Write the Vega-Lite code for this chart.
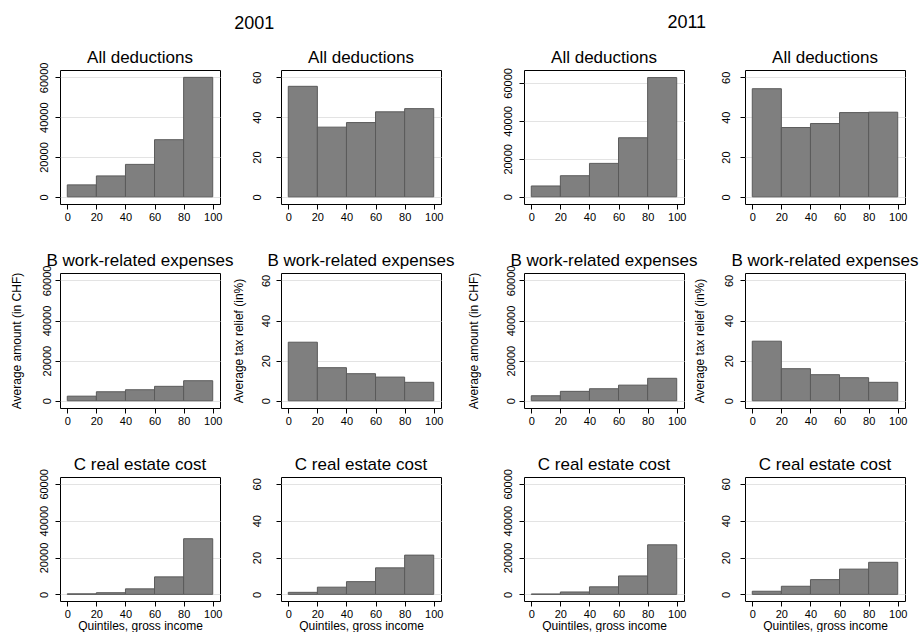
{
  "$schema": "https://vega.github.io/schema/vega-lite/v6.json",
  "background": "white",
  "padding": {"left": 9, "top": 14, "right": 5, "bottom": 0},
  "datasets": {
    "d": [
      {"year": 2001, "category": "All deductions", "measure": "amount", "from": 0, "to": 20, "value": 6000},
      {"year": 2001, "category": "All deductions", "measure": "amount", "from": 20, "to": 40, "value": 10500},
      {"year": 2001, "category": "All deductions", "measure": "amount", "from": 40, "to": 60, "value": 16300},
      {"year": 2001, "category": "All deductions", "measure": "amount", "from": 60, "to": 80, "value": 28700},
      {"year": 2001, "category": "All deductions", "measure": "amount", "from": 80, "to": 100, "value": 60000},
      {"year": 2001, "category": "All deductions", "measure": "relief", "from": 0, "to": 20, "value": 55.5},
      {"year": 2001, "category": "All deductions", "measure": "relief", "from": 20, "to": 40, "value": 35.0},
      {"year": 2001, "category": "All deductions", "measure": "relief", "from": 40, "to": 60, "value": 37.3},
      {"year": 2001, "category": "All deductions", "measure": "relief", "from": 60, "to": 80, "value": 42.7},
      {"year": 2001, "category": "All deductions", "measure": "relief", "from": 80, "to": 100, "value": 44.3},
      {"year": 2001, "category": "B work-related expenses", "measure": "amount", "from": 0, "to": 20, "value": 2300},
      {"year": 2001, "category": "B work-related expenses", "measure": "amount", "from": 20, "to": 40, "value": 4500},
      {"year": 2001, "category": "B work-related expenses", "measure": "amount", "from": 40, "to": 60, "value": 5500},
      {"year": 2001, "category": "B work-related expenses", "measure": "amount", "from": 60, "to": 80, "value": 7200},
      {"year": 2001, "category": "B work-related expenses", "measure": "amount", "from": 80, "to": 100, "value": 10000},
      {"year": 2001, "category": "B work-related expenses", "measure": "relief", "from": 0, "to": 20, "value": 29.2},
      {"year": 2001, "category": "B work-related expenses", "measure": "relief", "from": 20, "to": 40, "value": 16.5},
      {"year": 2001, "category": "B work-related expenses", "measure": "relief", "from": 40, "to": 60, "value": 13.5},
      {"year": 2001, "category": "B work-related expenses", "measure": "relief", "from": 60, "to": 80, "value": 11.8},
      {"year": 2001, "category": "B work-related expenses", "measure": "relief", "from": 80, "to": 100, "value": 9.2},
      {"year": 2001, "category": "C real estate cost", "measure": "amount", "from": 0, "to": 20, "value": 300},
      {"year": 2001, "category": "C real estate cost", "measure": "amount", "from": 20, "to": 40, "value": 900},
      {"year": 2001, "category": "C real estate cost", "measure": "amount", "from": 40, "to": 60, "value": 3000},
      {"year": 2001, "category": "C real estate cost", "measure": "amount", "from": 60, "to": 80, "value": 9500},
      {"year": 2001, "category": "C real estate cost", "measure": "amount", "from": 80, "to": 100, "value": 30200},
      {"year": 2001, "category": "C real estate cost", "measure": "relief", "from": 0, "to": 20, "value": 1.1},
      {"year": 2001, "category": "C real estate cost", "measure": "relief", "from": 20, "to": 40, "value": 3.9},
      {"year": 2001, "category": "C real estate cost", "measure": "relief", "from": 40, "to": 60, "value": 6.9},
      {"year": 2001, "category": "C real estate cost", "measure": "relief", "from": 60, "to": 80, "value": 14.4},
      {"year": 2001, "category": "C real estate cost", "measure": "relief", "from": 80, "to": 100, "value": 21.3},
      {"year": 2011, "category": "All deductions", "measure": "amount", "from": 0, "to": 20, "value": 5700},
      {"year": 2011, "category": "All deductions", "measure": "amount", "from": 20, "to": 40, "value": 11100},
      {"year": 2011, "category": "All deductions", "measure": "amount", "from": 40, "to": 60, "value": 17600},
      {"year": 2011, "category": "All deductions", "measure": "amount", "from": 60, "to": 80, "value": 31100},
      {"year": 2011, "category": "All deductions", "measure": "amount", "from": 80, "to": 100, "value": 62800},
      {"year": 2011, "category": "All deductions", "measure": "relief", "from": 0, "to": 20, "value": 54.3},
      {"year": 2011, "category": "All deductions", "measure": "relief", "from": 20, "to": 40, "value": 34.8},
      {"year": 2011, "category": "All deductions", "measure": "relief", "from": 40, "to": 60, "value": 36.8},
      {"year": 2011, "category": "All deductions", "measure": "relief", "from": 60, "to": 80, "value": 42.3},
      {"year": 2011, "category": "All deductions", "measure": "relief", "from": 80, "to": 100, "value": 42.5},
      {"year": 2011, "category": "B work-related expenses", "measure": "amount", "from": 0, "to": 20, "value": 2500},
      {"year": 2011, "category": "B work-related expenses", "measure": "amount", "from": 20, "to": 40, "value": 4700},
      {"year": 2011, "category": "B work-related expenses", "measure": "amount", "from": 40, "to": 60, "value": 6000},
      {"year": 2011, "category": "B work-related expenses", "measure": "amount", "from": 60, "to": 80, "value": 7800},
      {"year": 2011, "category": "B work-related expenses", "measure": "amount", "from": 80, "to": 100, "value": 11200},
      {"year": 2011, "category": "B work-related expenses", "measure": "relief", "from": 0, "to": 20, "value": 29.7},
      {"year": 2011, "category": "B work-related expenses", "measure": "relief", "from": 20, "to": 40, "value": 16.0},
      {"year": 2011, "category": "B work-related expenses", "measure": "relief", "from": 40, "to": 60, "value": 13.0},
      {"year": 2011, "category": "B work-related expenses", "measure": "relief", "from": 60, "to": 80, "value": 11.5},
      {"year": 2011, "category": "B work-related expenses", "measure": "relief", "from": 80, "to": 100, "value": 9.2},
      {"year": 2011, "category": "C real estate cost", "measure": "amount", "from": 0, "to": 20, "value": 200},
      {"year": 2011, "category": "C real estate cost", "measure": "amount", "from": 20, "to": 40, "value": 1300},
      {"year": 2011, "category": "C real estate cost", "measure": "amount", "from": 40, "to": 60, "value": 4100},
      {"year": 2011, "category": "C real estate cost", "measure": "amount", "from": 60, "to": 80, "value": 10000},
      {"year": 2011, "category": "C real estate cost", "measure": "amount", "from": 80, "to": 100, "value": 26900},
      {"year": 2011, "category": "C real estate cost", "measure": "relief", "from": 0, "to": 20, "value": 1.7},
      {"year": 2011, "category": "C real estate cost", "measure": "relief", "from": 20, "to": 40, "value": 4.4},
      {"year": 2011, "category": "C real estate cost", "measure": "relief", "from": 40, "to": 60, "value": 8.0},
      {"year": 2011, "category": "C real estate cost", "measure": "relief", "from": 60, "to": 80, "value": 13.7},
      {"year": 2011, "category": "C real estate cost", "measure": "relief", "from": 80, "to": 100, "value": 17.4}
    ]
  },
  "data": {"name": "d"},
  "spacing": 10,
  "hconcat": [
    {
      "title": {"text": "2001", "fontSize": 18, "offset": 16, "frame": "bounds", "dx": 22},
      "bounds": "flush",
      "columns": 2,
      "spacing": {"row": 69, "column": 61},
      "concat": [
        {
          "title": {"text": "All deductions", "offset": -5}, "width": 160, "height": 134,
          "transform": [{"filter": "datum.year == 2001 && datum.category == 'All deductions' && datum.measure == 'amount'"}],
          "mark": {"type": "rect", "fill": "#7f7f7f", "stroke": "#5a5a5a", "strokeWidth": 1},
          "encoding": {
            "x": {"field": "from", "type": "quantitative", "scale": {"domain": [-5, 105], "nice": false, "zero": false}, "axis": {"values": [0, 20, 40, 60, 80, 100], "title": null}},
            "x2": {"field": "to"},
            "y": {"field": "value", "type": "quantitative", "scale": {"domain": [-3600, 63700], "nice": false, "zero": false}, "axis": {"values": [0, 20000, 40000, 60000], "format": "d", "title": null, "labelPadding": 6}},
            "y2": {"datum": 0}
          }
        },
        {
          "title": "All deductions", "width": 160, "height": 134,
          "transform": [{"filter": "datum.year == 2001 && datum.category == 'All deductions' && datum.measure == 'relief'"}],
          "mark": {"type": "rect", "fill": "#7f7f7f", "stroke": "#5a5a5a", "strokeWidth": 1},
          "encoding": {
            "x": {"field": "from", "type": "quantitative", "scale": {"domain": [-5, 105], "nice": false, "zero": false}, "axis": {"values": [0, 20, 40, 60, 80, 100], "title": null}},
            "x2": {"field": "to"},
            "y": {"field": "value", "type": "quantitative", "scale": {"domain": [-3.6, 63.7], "nice": false, "zero": false}, "axis": {"values": [0, 20, 40, 60], "format": "d", "title": null, "labelPadding": 14}},
            "y2": {"datum": 0}
          }
        },
        {
          "title": {"text": "B work-related expenses", "offset": -5}, "width": 160, "height": 135,
          "transform": [{"filter": "datum.year == 2001 && datum.category == 'B work-related expenses' && datum.measure == 'amount'"}],
          "mark": {"type": "rect", "fill": "#7f7f7f", "stroke": "#5a5a5a", "strokeWidth": 1},
          "encoding": {
            "x": {"field": "from", "type": "quantitative", "scale": {"domain": [-5, 105], "nice": false, "zero": false}, "axis": {"values": [0, 20, 40, 60, 80, 100], "title": null}},
            "x2": {"field": "to"},
            "y": {"field": "value", "type": "quantitative", "scale": {"domain": [-3600, 63700], "nice": false, "zero": false}, "axis": {"values": [0, 20000, 40000, 60000], "format": "d", "title": "Average amount (in CHF)", "labelPadding": 3, "minExtent": 30, "maxExtent": 30, "titlePadding": 7}},
            "y2": {"datum": 0}
          }
        },
        {
          "title": "B work-related expenses", "width": 160, "height": 135,
          "transform": [{"filter": "datum.year == 2001 && datum.category == 'B work-related expenses' && datum.measure == 'relief'"}],
          "mark": {"type": "rect", "fill": "#7f7f7f", "stroke": "#5a5a5a", "strokeWidth": 1},
          "encoding": {
            "x": {"field": "from", "type": "quantitative", "scale": {"domain": [-5, 105], "nice": false, "zero": false}, "axis": {"values": [0, 20, 40, 60, 80, 100], "title": null}},
            "x2": {"field": "to"},
            "y": {"field": "value", "type": "quantitative", "scale": {"domain": [-3.6, 63.7], "nice": false, "zero": false}, "axis": {"values": [0, 20, 40, 60], "format": "d", "title": "Average tax relief (in%)", "labelPadding": 5, "minExtent": 30, "maxExtent": 30, "titlePadding": 6}},
            "y2": {"datum": 0}
          }
        },
        {
          "title": {"text": "C real estate cost", "offset": -5}, "width": 160, "height": 124,
          "transform": [{"filter": "datum.year == 2001 && datum.category == 'C real estate cost' && datum.measure == 'amount'"}],
          "mark": {"type": "rect", "fill": "#7f7f7f", "stroke": "#5a5a5a", "strokeWidth": 1},
          "encoding": {
            "x": {"field": "from", "type": "quantitative", "scale": {"domain": [-5, 105], "nice": false, "zero": false}, "axis": {"values": [0, 20, 40, 60, 80, 100], "title": "Quintiles, gross income"}},
            "x2": {"field": "to"},
            "y": {"field": "value", "type": "quantitative", "scale": {"domain": [-3600, 63700], "nice": false, "zero": false}, "axis": {"values": [0, 20000, 40000, 60000], "format": "d", "title": null, "labelPadding": 6}},
            "y2": {"datum": 0}
          }
        },
        {
          "title": "C real estate cost", "width": 160, "height": 124,
          "transform": [{"filter": "datum.year == 2001 && datum.category == 'C real estate cost' && datum.measure == 'relief'"}],
          "mark": {"type": "rect", "fill": "#7f7f7f", "stroke": "#5a5a5a", "strokeWidth": 1},
          "encoding": {
            "x": {"field": "from", "type": "quantitative", "scale": {"domain": [-5, 105], "nice": false, "zero": false}, "axis": {"values": [0, 20, 40, 60, 80, 100], "title": "Quintiles, gross income"}},
            "x2": {"field": "to"},
            "y": {"field": "value", "type": "quantitative", "scale": {"domain": [-3.6, 63.7], "nice": false, "zero": false}, "axis": {"values": [0, 20, 40, 60], "format": "d", "title": null, "labelPadding": 14}},
            "y2": {"datum": 0}
          }
        }
      ]
    },
    {
      "title": {"text": "2011", "fontSize": 18, "offset": 16, "frame": "bounds", "dx": -6},
      "bounds": "flush",
      "columns": 2,
      "spacing": {"row": 69, "column": 61},
      "concat": [
        {
          "title": {"text": "All deductions", "offset": 1}, "width": 160, "height": 134,
          "transform": [{"filter": "datum.year == 2011 && datum.category == 'All deductions' && datum.measure == 'amount'"}],
          "mark": {"type": "rect", "fill": "#7f7f7f", "stroke": "#5a5a5a", "strokeWidth": 1},
          "encoding": {
            "x": {"field": "from", "type": "quantitative", "scale": {"domain": [-5, 105], "nice": false, "zero": false}, "axis": {"values": [0, 20, 40, 60, 80, 100], "title": null}},
            "x2": {"field": "to"},
            "y": {"field": "value", "type": "quantitative", "scale": {"domain": [-3800, 66800], "nice": false, "zero": false}, "axis": {"values": [0, 20000, 40000, 60000], "format": "d", "title": null, "labelPadding": 6}},
            "y2": {"datum": 0}
          }
        },
        {
          "title": "All deductions", "width": 160, "height": 134,
          "transform": [{"filter": "datum.year == 2011 && datum.category == 'All deductions' && datum.measure == 'relief'"}],
          "mark": {"type": "rect", "fill": "#7f7f7f", "stroke": "#5a5a5a", "strokeWidth": 1},
          "encoding": {
            "x": {"field": "from", "type": "quantitative", "scale": {"domain": [-5, 105], "nice": false, "zero": false}, "axis": {"values": [0, 20, 40, 60, 80, 100], "title": null}},
            "x2": {"field": "to"},
            "y": {"field": "value", "type": "quantitative", "scale": {"domain": [-3.6, 63.7], "nice": false, "zero": false}, "axis": {"values": [0, 20, 40, 60], "format": "d", "title": null, "labelPadding": 9}},
            "y2": {"datum": 0}
          }
        },
        {
          "title": {"text": "B work-related expenses", "offset": -5}, "width": 160, "height": 135,
          "transform": [{"filter": "datum.year == 2011 && datum.category == 'B work-related expenses' && datum.measure == 'amount'"}],
          "mark": {"type": "rect", "fill": "#7f7f7f", "stroke": "#5a5a5a", "strokeWidth": 1},
          "encoding": {
            "x": {"field": "from", "type": "quantitative", "scale": {"domain": [-5, 105], "nice": false, "zero": false}, "axis": {"values": [0, 20, 40, 60, 80, 100], "title": null}},
            "x2": {"field": "to"},
            "y": {"field": "value", "type": "quantitative", "scale": {"domain": [-3600, 63700], "nice": false, "zero": false}, "axis": {"values": [0, 20000, 40000, 60000], "format": "d", "title": "Average amount (in CHF)", "labelPadding": 3, "minExtent": 30, "maxExtent": 30, "titlePadding": 14}},
            "y2": {"datum": 0}
          }
        },
        {
          "title": "B work-related expenses", "width": 160, "height": 135,
          "transform": [{"filter": "datum.year == 2011 && datum.category == 'B work-related expenses' && datum.measure == 'relief'"}],
          "mark": {"type": "rect", "fill": "#7f7f7f", "stroke": "#5a5a5a", "strokeWidth": 1},
          "encoding": {
            "x": {"field": "from", "type": "quantitative", "scale": {"domain": [-5, 105], "nice": false, "zero": false}, "axis": {"values": [0, 20, 40, 60, 80, 100], "title": null}},
            "x2": {"field": "to"},
            "y": {"field": "value", "type": "quantitative", "scale": {"domain": [-3.6, 63.7], "nice": false, "zero": false}, "axis": {"values": [0, 20, 40, 60], "format": "d", "title": "Average tax relief (in%)", "labelPadding": 6, "minExtent": 30, "maxExtent": 30, "titlePadding": 9}},
            "y2": {"datum": 0}
          }
        },
        {
          "title": {"text": "C real estate cost", "offset": -5}, "width": 160, "height": 124,
          "transform": [{"filter": "datum.year == 2011 && datum.category == 'C real estate cost' && datum.measure == 'amount'"}],
          "mark": {"type": "rect", "fill": "#7f7f7f", "stroke": "#5a5a5a", "strokeWidth": 1},
          "encoding": {
            "x": {"field": "from", "type": "quantitative", "scale": {"domain": [-5, 105], "nice": false, "zero": false}, "axis": {"values": [0, 20, 40, 60, 80, 100], "title": "Quintiles, gross income"}},
            "x2": {"field": "to"},
            "y": {"field": "value", "type": "quantitative", "scale": {"domain": [-3600, 63700], "nice": false, "zero": false}, "axis": {"values": [0, 20000, 40000, 60000], "format": "d", "title": null, "labelPadding": 6}},
            "y2": {"datum": 0}
          }
        },
        {
          "title": "C real estate cost", "width": 160, "height": 124,
          "transform": [{"filter": "datum.year == 2011 && datum.category == 'C real estate cost' && datum.measure == 'relief'"}],
          "mark": {"type": "rect", "fill": "#7f7f7f", "stroke": "#5a5a5a", "strokeWidth": 1},
          "encoding": {
            "x": {"field": "from", "type": "quantitative", "scale": {"domain": [-5, 105], "nice": false, "zero": false}, "axis": {"values": [0, 20, 40, 60, 80, 100], "title": "Quintiles, gross income"}},
            "x2": {"field": "to"},
            "y": {"field": "value", "type": "quantitative", "scale": {"domain": [-3.6, 63.7], "nice": false, "zero": false}, "axis": {"values": [0, 20, 40, 60], "format": "d", "title": null, "labelPadding": 9}},
            "y2": {"datum": 0}
          }
        }
      ]
    }
  ],
  "config": {
    "font": "Liberation Sans",
    "view": {"stroke": "#000000", "strokeWidth": 1, "fill": "white"},
    "title": {"fontSize": 17, "fontWeight": "normal", "color": "#000000", "font": "Liberation Sans", "offset": 3, "anchor": "middle"},
    "axis": {
      "labelFont": "Liberation Sans", "titleFont": "Liberation Sans",
      "labelFontSize": 11, "labelColor": "#000000",
      "titleFontSize": 12, "titleFontWeight": "normal", "titleColor": "#000000",
      "tickColor": "#000000", "tickSize": 5, "tickWidth": 1,
      "domain": false,
      "gridColor": "#e3e3e3", "gridWidth": 1,
      "labelOverlap": false, "labelFlush": false
    },
    "axisX": {"grid": false, "labelPadding": 2, "titlePadding": 1},
    "axisY": {"grid": true, "labelAngle": -90, "labelAlign": "center", "labelBaseline": "bottom"}
  }
}
